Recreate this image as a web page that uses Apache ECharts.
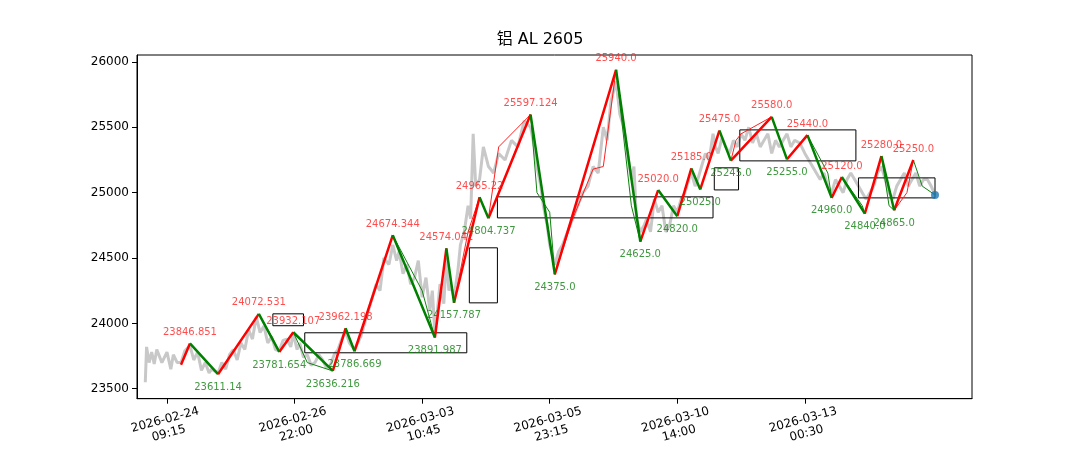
<!DOCTYPE html><html><head><meta charset="utf-8"><script src="https://cdn.jsdelivr.net/npm/echarts@6/dist/echarts.min.js"></script></head><body style="margin:0"><div id="c" style="width:1080px;height:450px"></div><script>
const xTickValues=[0,100,200,300,400,500];
const xTickLabels=['2026-02-24\n09:15','2026-02-26\n22:00','2026-03-03\n10:45','2026-03-05\n23:15','2026-03-10\n14:00','2026-03-13\n00:30'];
const yTickValues=[23500,24000,24500,25000,25500,26000];
const pivots=[[11,23684],[18,23846.851],[40,23611.14],[72,24072.531],[88,23781.654],[99,23932.107],[130,23636.216],[140,23962.198],[147,23786.669],[177,24674.344],[210,23891.987],[219,24574.042],[225,24157.787],[245,24965.22],[252,24804.737],[285,25597.124],[304,24375.0],[352,25940.0],[371,24625.0],[385,25020.0],[400,24820.0],[411,25185.0],[418,25025.0],[433,25475.0],[442,25245.0],[474,25580.0],[486,25255.0],[502,25440.0],[521,24960.0],[529,25120.0],[547,24840.0],[560,25280.0],[570,24865.0],[585,25250.0]];
const endPoint=[602,24983];
const price=[[-17,23550],[-16,23820],[-14,23700],[-12,23780],[-10,23690],[-8,23800],[-4,23700],[0,23780],[3,23650],[5,23760],[8,23700],[11,23700],[14,23790],[18,23830],[21,23720],[24,23780],[27,23640],[30,23700],[33,23620],[35,23650],[40,23620],[43,23700],[46,23650],[49,23760],[52,23800],[55,23720],[58,23850],[61,23800],[64,23950],[67,23880],[70,24050],[73,23930],[76,23980],[79,23850],[82,23900],[85,23800],[88,23790],[91,23870],[94,23880],[97,23820],[99,23920],[102,23800],[104,23850],[107,23740],[110,23760],[113,23680],[116,23700],[119,23760],[122,23720],[125,23660],[128,23680],[131,23760],[134,23800],[137,23880],[140,23940],[143,23850],[147,23800],[150,23860],[152,23900],[155,24000],[158,24100],[161,24200],[164,24300],[167,24250],[170,24500],[174,24450],[177,24600],[180,24480],[182,24550],[185,24380],[188,24450],[191,24300],[194,24350],[197,24480],[200,24200],[203,24350],[206,24100],[208,24250],[210,23920],[212,24100],[214,24300],[217,24150],[219,24500],[221,24250],[222,24300],[225,24200],[228,24400],[230,24600],[233,24700],[236,24900],[238,24800],[240,25450],[242,25050],[245,25100],[248,25350],[252,25200],[256,25150],[260,25300],[265,25250],[270,25400],[275,25350],[280,25550],[285,25500],[288,25350],[290,25200],[293,25050],[295,24900],[298,24750],[300,24600],[304,24450],[307,24550],[310,24600],[314,24700],[318,24800],[322,24900],[326,25000],[330,25050],[334,25200],[338,25150],[342,25500],[345,25400],[348,25700],[352,25850],[355,25600],[358,25500],[361,25300],[364,25100],[366,25200],[368,24800],[371,24700],[374,24750],[376,24800],[379,24700],[382,24950],[385,24850],[388,24900],[391,24700],[394,24750],[397,24900],[400,24850],[403,24950],[406,25000],[409,25100],[411,25150],[414,25050],[416,25100],[419,25200],[422,25300],[425,25250],[428,25450],[430,25350],[432,25300],[435,25420],[438,25350],[441,25300],[444,25400],[447,25350],[450,25450],[453,25400],[456,25500],[459,25380],[462,25450],[465,25350],[468,25400],[471,25450],[474,25300],[477,25400],[480,25350],[483,25400],[486,25450],[489,25350],[492,25400],[496,25380],[500,25300],[503,25250],[506,25200],[509,25150],[512,25100],[515,25150],[518,25050],[521,25000],[524,25100],[527,25050],[530,25000],[533,25100],[536,25150],[539,25100],[542,25050],[545,25000],[548,24950],[551,25000],[554,25050],[557,25150],[560,25200],[563,25100],[566,25000],[569,24950],[572,25050],[575,25100],[578,25150],[581,25050],[584,25100],[587,25150],[590,25050],[593,25100],[596,25100],[599,25050],[602,24983]];
const thinUp=[[[40,23611],[64,23960],[72,24072]],[[130,23636],[140,23962]],[[147,23787],[177,24674]],[[210,23892],[219,24574]],[[225,24158],[236,24700],[245,24965]],[[252,24805],[260,25350],[285,25597]],[[304,24375],[318,24800],[334,25180],[342,25200],[352,25940]],[[371,24625],[385,25020]],[[400,24820],[411,25185]],[[418,25025],[433,25475]],[[442,25245],[446,25400],[450,25450],[474,25580]],[[547,24840],[560,25280]],[[570,24865],[580,25000],[585,25250]]];
const thinDown=[[[72,24072],[82,23900],[88,23782]],[[99,23932],[110,23700],[130,23636]],[[177,24674],[200,24250],[210,23892]],[[285,25597],[290,25000],[300,24850],[304,24375]],[[352,25940],[364,24900],[371,24625]],[[474,25580],[486,25255]],[[502,25440],[518,25150],[521,24960]],[[529,25120],[545,24900],[547,24840]],[[560,25280],[566,24900],[570,24865]],[[585,25250],[592,25050],[602,24983]]];
const boxes=[[83,107,24073,23982],[108,235,23928,23775],[237,259,24578,24157],[259,428,24968,24807],[429,448,25190,25021],[449,540,25480,25243],[542,602,25113,24960]];
function segs(list){const o=[];list.forEach(s=>{s.forEach(p=>o.push(p));o.push('-');});return o;}
const upS=[],dnS=[];
for(let i=0;i<pivots.length-1;i++){const a=pivots[i],b=pivots[i+1];(b[1]>a[1]?upS:dnS).push([a,b]);}
const highs=[],lows=[];
for(let i=1;i<pivots.length;i++){const p=pivots[i],q=pivots[i-1];(p[1]>q[1]?highs:lows).push(p);}
const fmt=v=>{const s=String(v);return s.includes('.')?s:s+'.0';};
const chart=echarts.init(document.getElementById('c'));
chart.setOption({animation:false,
title:{text:'铝 AL 2605',left:'center',top:27,textStyle:{fontFamily:'DejaVu Sans, Noto Sans CJK SC',fontSize:16,fontWeight:'normal',color:'#000'}},
grid:{left:137,right:108,top:55,bottom:51,show:true,borderColor:'#000',borderWidth:1},
xAxis:{type:'value',min:-23.5,max:631,splitLine:{show:false},axisLine:{onZero:false,lineStyle:{color:'#000'}},
axisTick:{customValues:xTickValues,lineStyle:{color:'#000'}},
axisLabel:{customValues:xTickValues,rotate:15,align:'center',margin:28,color:'#000',fontSize:12,fontFamily:'DejaVu Sans',formatter:v=>xTickLabels[xTickValues.indexOf(v)]||'',lineHeight:14}},
yAxis:{type:'value',min:23424,max:26053,splitLine:{show:false},axisLine:{show:true,onZero:false,lineStyle:{color:'#000'}},
axisTick:{show:true,customValues:yTickValues,lineStyle:{color:'#000'}},
axisLabel:{customValues:yTickValues,color:'#000',fontSize:12,fontFamily:'DejaVu Sans',formatter:v=>String(v)}},
series:[
{type:'line',data:price,symbol:'none',lineStyle:{color:'#c8c8c8',width:3},z:1},
{type:'custom',data:boxes,renderItem:(p,api)=>{const a=api.coord([api.value(0),api.value(2)]),b=api.coord([api.value(1),api.value(3)]);return{type:'rect',shape:{x:a[0],y:a[1],width:b[0]-a[0],height:b[1]-a[1]},style:{fill:'none',stroke:'#000',lineWidth:1}};},z:2},
{type:'line',data:segs(thinUp),symbol:'none',lineStyle:{color:'#ff2020',width:1},z:3},
{type:'line',data:segs(thinDown),symbol:'none',lineStyle:{color:'#108010',width:1},z:3},
{type:'line',data:segs(upS),symbol:'none',lineStyle:{color:'#ff0000',width:2.5},z:4},
{type:'line',data:segs(dnS),symbol:'none',lineStyle:{color:'#008000',width:2.5},z:4},
{type:'scatter',data:highs,symbolSize:0,label:{show:true,position:'top',distance:6,color:'#ff2020',fontSize:10,fontFamily:'DejaVu Sans',formatter:p=>fmt(p.value[1])},z:5},
{type:'scatter',data:lows,symbolSize:0,label:{show:true,position:'bottom',distance:8,color:'#108010',fontSize:10,fontFamily:'DejaVu Sans',formatter:p=>fmt(p.value[1])},z:5},
{type:'scatter',data:[endPoint],symbolSize:8,itemStyle:{color:'#1f77b4'},z:6}
]});
</script></body></html>
